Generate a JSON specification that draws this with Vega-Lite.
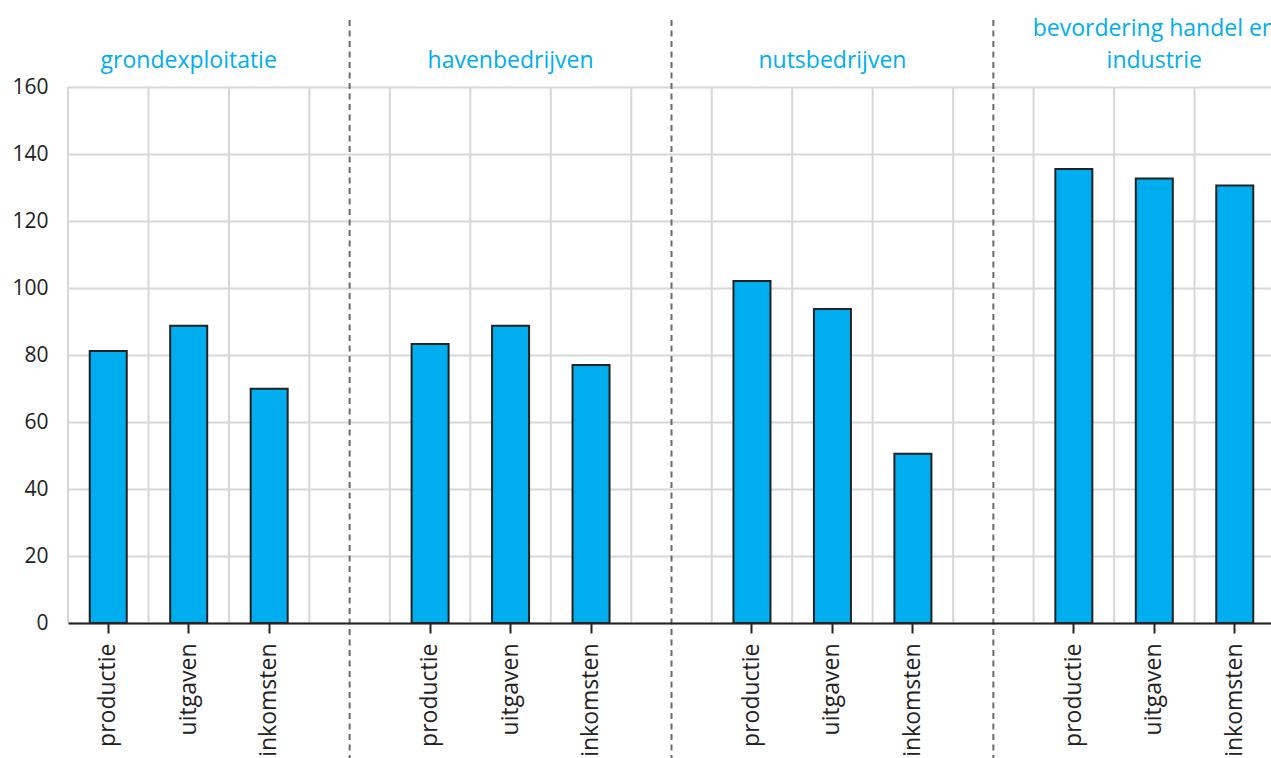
{
  "$schema": "https://vega.github.io/schema/vega-lite/v6.json",
  "width": 1203,
  "height": 536,
  "autosize": {"type": "none"},
  "padding": {"left": 68, "top": 87, "right": 0, "bottom": 135},
  "background": "white",
  "config": {
    "view": {"stroke": null},
    "font": "Open Sans",
    "text": {"font": "Open Sans"}
  },
  "datasets": {
    "bars": [
      {"cat": "g1|productie", "value": 81.2},
      {"cat": "g1|uitgaven", "value": 88.7},
      {"cat": "g1|inkomsten", "value": 69.9},
      {"cat": "g2|productie", "value": 83.3},
      {"cat": "g2|uitgaven", "value": 88.7},
      {"cat": "g2|inkomsten", "value": 77.0},
      {"cat": "g3|productie", "value": 102.1},
      {"cat": "g3|uitgaven", "value": 93.7},
      {"cat": "g3|inkomsten", "value": 50.5},
      {"cat": "g4|productie", "value": 135.5},
      {"cat": "g4|uitgaven", "value": 132.7},
      {"cat": "g4|inkomsten", "value": 130.6}
    ],
    "bands": [
      {"cat": "g1|productie"}, {"cat": "g1|uitgaven"}, {"cat": "g1|inkomsten"}, {"cat": "g1|"},
      {"cat": "g2|productie"}, {"cat": "g2|uitgaven"}, {"cat": "g2|inkomsten"}, {"cat": "g2|"},
      {"cat": "g3|productie"}, {"cat": "g3|uitgaven"}, {"cat": "g3|inkomsten"}, {"cat": "g3|"},
      {"cat": "g4|productie"}, {"cat": "g4|uitgaven"}, {"cat": "g4|inkomsten"}
    ],
    "gaps": [{"cat": "g1|"}, {"cat": "g2|"}, {"cat": "g3|"}],
    "titles": [
      {"cat": "g1|uitgaven", "title": "grondexploitatie", "line": 2},
      {"cat": "g2|uitgaven", "title": "havenbedrijven", "line": 2},
      {"cat": "g3|uitgaven", "title": "nutsbedrijven", "line": 2},
      {"cat": "g4|uitgaven", "title": "bevordering handel en", "line": 1},
      {"cat": "g4|uitgaven", "title": "industrie", "line": 2}
    ]
  },
  "layer": [
    {
      "data": {"name": "bands"},
      "mark": {"type": "rule", "color": "#d7d7d7", "strokeWidth": 2},
      "encoding": {
        "x": {"field": "cat", "type": "nominal", "bandPosition": 0, "title": null},
        "y": {"datum": 0, "type": "quantitative", "title": null},
        "y2": {"datum": 160}
      }
    },
    {
      "data": {"name": "bars"},
      "mark": {"type": "bar", "width": {"band": 0.46}, "fill": "#00AEEF", "stroke": "#222222", "strokeWidth": 2},
      "encoding": {
        "x": {
          "field": "cat",
          "type": "nominal",
          "title": null,
          "sort": null,
          "scale": {
            "domain": ["g1|productie", "g1|uitgaven", "g1|inkomsten", "g1|",
                       "g2|productie", "g2|uitgaven", "g2|inkomsten", "g2|",
                       "g3|productie", "g3|uitgaven", "g3|inkomsten", "g3|",
                       "g4|productie", "g4|uitgaven", "g4|inkomsten"],
            "paddingInner": 0,
            "paddingOuter": 0,
            "range": [0, 1207]
          },
          "axis": {
            "values": ["g1|productie", "g1|uitgaven", "g1|inkomsten",
                       "g2|productie", "g2|uitgaven", "g2|inkomsten",
                       "g3|productie", "g3|uitgaven", "g3|inkomsten",
                       "g4|productie", "g4|uitgaven", "g4|inkomsten"],
            "labelExpr": "split(datum.value, '|')[1]",
            "labelAngle": -90,
            "labelFontSize": 23,
            "labelColor": "#222222",
            "labelPadding": 10,
            "tickSize": 10,
            "tickWidth": 2,
            "tickColor": "#222222",
            "domainColor": "#222222",
            "domainWidth": 2,
            "grid": false,
            "zindex": 1
          }
        },
        "y": {
          "field": "value",
          "type": "quantitative",
          "title": null,
          "scale": {"domain": [0, 160], "nice": false, "zero": true},
          "axis": {
            "values": [0, 20, 40, 60, 80, 100, 120, 140, 160],
            "grid": true,
            "gridColor": "#d7d7d7",
            "gridWidth": 2,
            "domain": false,
            "ticks": false,
            "labelPadding": 20,
            "labelFontSize": 21,
            "labelColor": "#222222"
          }
        }
      }
    },
    {
      "data": {"name": "gaps"},
      "mark": {"type": "rule", "color": "#6b6b6b", "strokeWidth": 2, "strokeDash": [6, 4.5]},
      "encoding": {
        "x": {"field": "cat", "type": "nominal", "bandPosition": 0.5, "title": null},
        "y": {"datum": 180, "type": "quantitative", "title": null},
        "y2": {"datum": -41}
      }
    },
    {
      "data": {"name": "titles"},
      "transform": [{"filter": "datum.line == 2"}],
      "mark": {"type": "text", "color": "#00AEEF", "fontSize": 23, "baseline": "alphabetic", "align": "center", "dy": -19.5},
      "encoding": {
        "x": {"field": "cat", "type": "nominal", "bandPosition": 0.5, "title": null},
        "y": {"datum": 160, "type": "quantitative", "title": null},
        "text": {"field": "title"}
      }
    },
    {
      "data": {"name": "titles"},
      "transform": [{"filter": "datum.line == 1"}],
      "mark": {"type": "text", "color": "#00AEEF", "fontSize": 23, "baseline": "alphabetic", "align": "center", "dy": -51},
      "encoding": {
        "x": {"field": "cat", "type": "nominal", "bandPosition": 0.5, "title": null},
        "y": {"datum": 160, "type": "quantitative", "title": null},
        "text": {"field": "title"}
      }
    }
  ]
}
